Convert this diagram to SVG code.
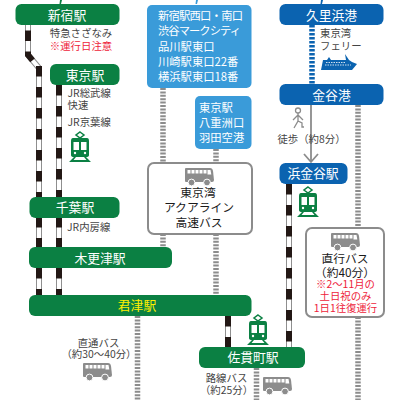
<svg xmlns="http://www.w3.org/2000/svg" width="400" height="400" viewBox="0 0 400 400">
<style>
text{font-family:"Noto Sans CJK JP","Noto Sans",sans-serif;text-anchor:middle}
.g{fill:#0b8043}.b{fill:#0b63b0}.lb{fill:#3a9bd9}
.st{fill:#fff;font-size:12.800px}
.lt{fill:#fff;font-size:11.300px;text-anchor:start}
.d{fill:#444;font-size:10.400px}
.s{text-anchor:start}
.k{fill:#1a1a1a;font-size:11.800px}
.r{fill:#ee1c3a;font-size:10.400px}
.railo{fill:none;stroke:#8f8f8f;stroke-width:6}
.raili{fill:none;stroke:#fff;stroke-width:4}
.railb{fill:none;stroke:#231815;stroke-width:6;stroke-dasharray:10.500 10.500}
.bus{fill:none;stroke:#8c8c8c;stroke-width:5.500;stroke-dasharray:2 1.400}
.ferry{fill:none;stroke:#0b63b0;stroke-width:5.500;stroke-dasharray:2.600 1.400}
</style>
<defs>
<g id="busicon">
<path d="M1 1H25Q27.500 1 28 4L29 13Q29 15 27 15H1Q0 15 0 14V2Q0 1 1 1Z" fill="#8c8c8c"/>
<path d="M2.500 3h3v3.500h-3zM6.500 3h3v3.500h-3zM10.500 3h3v3.500h-3zM14.500 3h3v3.500h-3zM18.500 3h3v3.500h-3zM22.500 3h3l.8 4.500h-3.800z" fill="#fff"/>
<circle cx="6.500" cy="15.500" r="3.400" fill="#8c8c8c" stroke="#fff" stroke-width="1"/>
<circle cx="22" cy="15.500" r="3.400" fill="#8c8c8c" stroke="#fff" stroke-width="1"/>
</g>
<g id="train">
<path d="M11 0 15 3 11 6 7 3Z" fill="none" stroke="#0b8043" stroke-width="1.500"/>
<path d="M4 6H18Q20 6 20 9V23Q20 25 17 25H5Q2 25 2 23V9Q2 6 4 6Z" fill="#0b8043"/>
<path d="M4.500 10h5.500v8h-5.500zM12 10h5.500v8h-5.500z" fill="#fff"/>
<circle cx="6" cy="21" r="1.200" fill="#fff"/><circle cx="16" cy="21" r="1.200" fill="#fff"/>
<path d="M0 30 5 25H7L4.500 28H17.500L15 25H17L22 30Z" fill="#0b8043"/>
</g>
<g id="r1"><path class="railo" d="M28 25V55L39 68"/><path class="raili" d="M28 25V55L39 68"/><path class="railb" d="M28 25V55L39 68" stroke-dashoffset="15.500"/></g>
</defs>

<g id="connectors">
<path class="g" d="M60 0h2l-1 4h-1.500z"/>
<path class="lb" d="M196 0h2l-1 4h-1.500z"/>
<path class="b" d="M321 0h2l-1 4h-1.500z"/>
<use href="#r1"/>
<path class="railo" d="M39 66V197M39 217V247M39 268V295M59 85V197M59 217V247M59 268V295M228 316V347M289 184V347"/>
<path class="raili" d="M39 66V197M39 217V247M39 268V295M59 85V197M59 217V247M59 268V295M228 316V347M289 184V347"/>
<path class="railb" d="M39 66V197M39 217V247M39 268V295M59 85V197M59 217V247M59 268V295M228 316V347M289 184V347"/>
<path class="bus" d="M163 88V163M163 234V247M216 149V163M216 234V295M137.500 316V400M256.500 368V400M358 105V228M358 317V400"/>
<path class="ferry" d="M312 25V84"/>
<path d="M311 105V161M304 154 311 162 318 154" fill="none" stroke="#8c8c8c" stroke-width="1.800"/>
</g>

<g id="shinjuku"><rect class="g" x="15.500" y="4" width="104" height="21" rx="6"/><text class="st" x="67" y="19.500">新宿駅</text></g>
<g id="tokyo"><rect class="g" x="50" y="64" width="69.500" height="21" rx="6"/><text class="st" x="85" y="79.500">東京駅</text></g>
<g id="chiba"><rect class="g" x="29.500" y="197" width="90" height="21" rx="6"/><text class="st" x="75" y="212">千葉駅</text></g>
<g id="kisarazu"><rect class="g" x="29" y="247" width="143" height="21" rx="6"/><text class="st" x="100" y="262.500">木更津駅</text></g>
<g id="kimitsu"><rect class="g" x="29" y="295" width="222.500" height="21" rx="6"/><text class="st" x="137" y="310" style="fill:#ffef00">君津駅</text></g>
<g id="sanukimachi"><rect class="g" x="199" y="347" width="106" height="21" rx="6"/><text class="st" x="253" y="362">佐貫町駅</text></g>
<g id="kurihama"><rect class="b" x="279.500" y="4" width="104" height="21" rx="6"/><text class="st" x="331.500" y="20">久里浜港</text></g>
<g id="kanaya"><rect class="b" x="279.500" y="84" width="104" height="21" rx="6"/><text class="st" x="331.500" y="99.500">金谷港</text></g>
<g id="hamakanaya"><rect class="b" x="279.500" y="163" width="68" height="21" rx="6"/><text class="st" x="313" y="177.500">浜金谷駅</text></g>

<g id="stops1"><rect class="lb" x="147" y="5" width="104.500" height="83" rx="5"/>
<text class="lt" x="158" y="19.500" textLength="85">新宿駅西口・南口</text>
<text class="lt" x="158" y="35" textLength="83">渋谷マークシティ</text>
<text class="lt" x="158" y="51">品川駅東口</text>
<text class="lt" x="158" y="66">川崎駅東口22番</text>
<text class="lt" x="158" y="81">横浜駅東口18番</text></g>
<g id="stops2"><rect class="lb" x="195" y="96" width="56.500" height="53" rx="5"/>
<text class="lt" x="199" y="112">東京駅</text>
<text class="lt" x="199" y="127">八重洲口</text>
<text class="lt" x="199" y="142">羽田空港</text></g>

<g id="aqualine"><rect x="148" y="163" width="104" height="71" rx="6" fill="#fff" stroke="#8c8c8c" stroke-width="2"/>
<use href="#busicon" x="185" y="167"/>
<text class="k" x="198" y="197">東京湾</text>
<text class="k" x="199" y="212">アクアライン</text>
<text class="k" x="199" y="227">高速バス</text></g>

<g id="direct"><rect x="306" y="228" width="78" height="89" rx="6" fill="#fff" stroke="#8c8c8c" stroke-width="2"/>
<use href="#busicon" x="331" y="232"/>
<text class="k" x="345" y="262.500">直行バス</text>
<text class="k" x="345" y="276.500">（約40分）</text>
<text class="r" x="345.500" y="288">※2～11月の</text>
<text class="r" x="345.500" y="300">土日祝のみ</text>
<text class="r" x="345.500" y="311.500">1日1往復運行</text></g>

<g id="labels">
<text class="d" x="81" y="37">特急さざなみ</text>
<text class="r" x="81" y="50">※運行日注意</text>
<text class="d s" x="67.500" y="97">JR総武線</text>
<text class="d s" x="67.500" y="109">快速</text>
<text class="d s" x="67.500" y="126">JR京葉線</text>
<text class="d s" x="67" y="231">JR内房線</text>
<text class="d" x="98.500" y="347">直通バス</text>
<text class="d" x="99" y="358">（約30～40分）</text>
<text class="d" x="226.500" y="382">路線バス</text>
<text class="d" x="226.500" y="394">（約25分）</text>
<text class="d s" x="320" y="37">東京湾</text>
<text class="d s" x="320" y="50">フェリー</text>
<text class="d" x="311.500" y="143">徒歩（約8分）</text>
</g>

<g id="icons">
<use href="#train" x="69" y="132"/>
<use href="#train" x="247" y="315"/>
<use href="#train" x="297" y="187"/>
<use href="#busicon" x="83" y="362"/>
<use href="#busicon" x="263" y="376"/>
<path class="b" d="M321 70L323 60H327L329 57 331 60H346L345 54 349 60 352 62 357 64 352 70Z"/>
<path d="M326 62.500h20M325 65h26" stroke="#fff" stroke-width=".8" stroke-dasharray="1.500 1"/>
<g fill="none" stroke="#8c8c8c" stroke-width="1.300"><circle cx="298" cy="110.500" r="2.500"/><path d="M298 113V121L294 128M298 121 302 123 302 127H304M298 115 293 120M298 115 303 120"/></g>
</g>
</svg>
